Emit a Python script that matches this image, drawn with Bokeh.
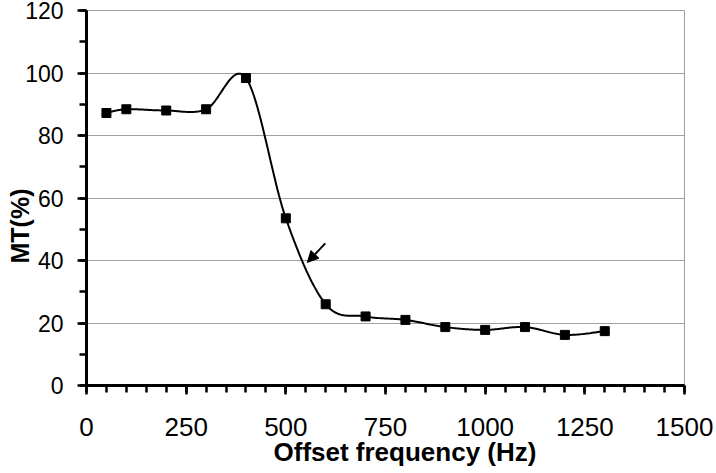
import numpy as np
from bokeh.plotting import figure
from bokeh.models import Range1d, SingleIntervalTicker, Arrow, NormalHead, Title
from bokeh.embed import file_html
from bokeh.resources import INLINE

# data
freq = [50, 100, 200, 300, 400, 500, 600, 700, 800, 900, 1000, 1100, 1200, 1300]
mt = [87.2, 88.4, 88.0, 88.4, 98.4, 53.5, 26.0, 22.1, 21.0, 18.7, 17.8, 18.7, 16.2, 17.4]
x_label = "Offset frequency (Hz)"
y_label = "MT(%)"
arrow_tail = (599, 45.5)
arrow_tip = (554, 39.4)


def smooth(xs, ys, n=30):
    """Excel-style smoothed line: Catmull-Rom Bezier through the points."""
    P = np.column_stack([xs, ys]).astype(float)
    m = len(P)
    out = [P[0]]
    for i in range(m - 1):
        p0 = P[i - 1] if i > 0 else P[i]
        p1 = P[i]
        p2 = P[i + 1]
        p3 = P[i + 2] if i + 2 < m else P[i + 1]
        c1 = p1 + (p2 - p0) / 6.0
        c2 = p2 - (p3 - p1) / 6.0
        t = np.linspace(0, 1, n)[1:, None]
        seg = ((1 - t) ** 3) * p1 + 3 * ((1 - t) ** 2) * t * c1 + 3 * (1 - t) * t ** 2 * c2 + t ** 3 * p2
        out.extend(seg)
    out = np.array(out)
    return out[:, 0], out[:, 1]


sx, sy = smooth(freq, mt)

p = figure(width=716, height=473, output_backend="svg", toolbar_location=None,
           x_range=Range1d(0, 1500), y_range=Range1d(0, 120),
           min_border_left=86, min_border_right=32, min_border_top=10, min_border_bottom=88)

p.background_fill_color = "white"
p.border_fill_color = "white"
p.outline_line_color = "#a0a0a0"
p.outline_line_width = 1

p.line(sx, sy, line_color="black", line_width=2)
p.scatter(freq, mt, marker="square", size=9, fill_color="black", line_color="black")

p.add_layout(Arrow(end=NormalHead(size=11, fill_color="black", line_color="black"),
                   x_start=arrow_tail[0], y_start=arrow_tail[1],
                   x_end=arrow_tip[0], y_end=arrow_tip[1],
                   line_color="black", line_width=2))

# axes
p.xaxis.ticker = SingleIntervalTicker(interval=250, num_minor_ticks=5)
p.yaxis.ticker = SingleIntervalTicker(interval=20, num_minor_ticks=2)
for ax in (p.xaxis[0], p.yaxis[0]):
    ax.axis_line_color = "black"
    ax.axis_line_width = 3
    ax.major_tick_line_color = "black"
    ax.minor_tick_line_color = "black"
    ax.major_tick_line_width = 2.5
    ax.minor_tick_line_width = 2.5
    ax.major_tick_in = 0
    ax.minor_tick_in = 0
    ax.major_tick_out = 9
    ax.minor_tick_out = 7
    ax.major_label_text_font = "Liberation Sans"
    ax.major_label_text_color = "black"

p.xaxis.major_label_text_font_size = "26px"
p.yaxis.major_label_text_font_size = "23px"
p.xaxis.major_label_standoff = 23
p.yaxis.major_label_standoff = 14

p.add_layout(Title(text=x_label, align="left", offset=187, standoff=-8,
                   text_font="Liberation Sans", text_font_style="bold",
                   text_font_size="26px", text_color="black"), "below")

p.add_layout(Title(text=y_label, align="left", offset=122, standoff=-22,
                   text_font="Liberation Sans", text_font_style="bold",
                   text_font_size="25px", text_color="black"), "left")

p.xgrid.grid_line_color = None
p.ygrid.grid_line_color = "#a0a0a0"
p.ygrid.grid_line_width = 1

open("out.html", "w").write(file_html(p, INLINE))
